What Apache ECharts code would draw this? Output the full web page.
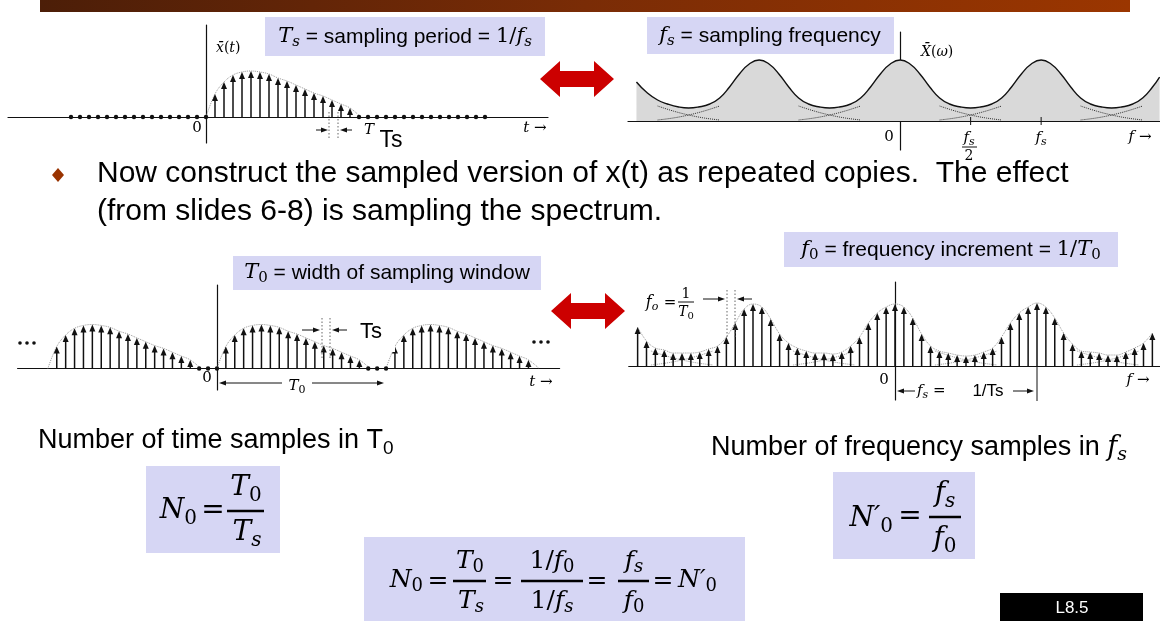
<!DOCTYPE html>
<html>
<head>
<meta charset="utf-8">
<script src="https://cdn.jsdelivr.net/npm/echarts@6/dist/echarts.min.js"></script>
<style>
  html, body { margin: 0; padding: 0; background: #fff; }
  #main { width: 1160px; height: 621px; }
</style>
</head>
<body>
<div id="main"></div>
<script>
// ---- data ----
// one pulse of x(t): sample index n = 1..16 (spacing Ts), amplitude
var pulseN = [1, 2, 3, 4, 5, 6, 7, 8, 9, 10, 11, 12, 13, 14, 15, 16];
var pulseAmp = [23, 35, 42, 45, 46, 45, 43, 39, 36, 32, 28, 24, 21, 17, 13, 9];
var pulseEdges = [0, 17.2];            // where the dotted envelope meets the axis
var zeroSamplesTop = [-15, -14, -13, -12, -11, -10, -9, -8, -7, -6, -5, -4, -3, -2, -1, 0,
                      17, 18, 19, 20, 21, 22, 23, 24, 25, 26, 27, 28, 29, 30, 31];

// periodic version: copies every N0 = 19 samples
var copyOffsets = [-19, 0, 19];
var zeroSamplesBottom = [-2, -1, 0, 17, 18, 19];

// continuous spectrum (f in units of fs), magnitude
var specF = [-1.87, -1.80, -1.72, -1.65, -1.57, -1.50, -1.43, -1.35, -1.28, -1.21, -1.14, -1.07,
             -1.00, -0.93, -0.86, -0.79, -0.72, -0.65, -0.57, -0.50, -0.43, -0.35, -0.28, -0.21,
             -0.14, -0.07, 0, 0.07, 0.14, 0.21, 0.28, 0.35, 0.43, 0.50, 0.57, 0.65, 0.72, 0.79,
             0.86, 0.93, 1.00, 1.07, 1.14, 1.21, 1.28, 1.35, 1.43, 1.50, 1.57, 1.65, 1.72, 1.79, 1.84];
var specMag = [39, 29, 21, 17, 14, 13, 14, 17, 23, 34, 47, 57,
               61, 57, 47, 34, 23, 17, 14, 13, 14, 17, 23, 34,
               47, 57, 61, 57, 47, 34, 23, 17, 14, 13, 14, 17, 23, 34,
               47, 57, 61, 57, 47, 34, 23, 17, 14, 13, 14, 17, 23, 34, 44];
var specTicks = [0.5, 1];
// overlapping tails (dotted) around each trough
var troughCenters = [-1.5, -0.5, 0.5, 1.5];
var tailOffsets = [-0.22, -0.11, 0, 0.11, 0.22];
var tailMag = [15, 10, 6, 3, 1];

// sampled spectrum: k = -29..29 (spacing f0), magnitude
var dftK0 = -29;
var dftMag = [39, 25, 18, 16, 13, 13, 13, 14, 17, 20, 29, 43, 57, 62,
              59, 47, 32, 23, 18, 15, 13, 13, 12, 14, 20, 29, 43, 53, 59,
              62,
              59, 48, 32, 20, 15, 13, 11, 10, 11, 14, 18, 29, 43, 53, 59, 63,
              59, 48, 33, 22, 15, 14, 13, 11, 11, 14, 18, 23, 33];
var dftTroughs = [-24, -8, 8, 24];
var dftTailOffsets = [-3.5, -1.75, 0, 1.75, 3.5];

// ---- helpers ----
var SERIF = '"DejaVu Serif","Liberation Serif",serif';
var SANS = '"Liberation Sans",Arial,sans-serif';
var INK = '#111';

function rich(size) {
  var sub = Math.round(size * 0.7);
  var lh = Math.round(size * 1.25);
  return {
    i: { fontFamily: SERIF, fontStyle: 'italic', fontSize: size, lineHeight: lh },
    r: { fontFamily: SERIF, fontSize: size, lineHeight: lh },
    t: { fontFamily: SANS, fontSize: size, lineHeight: lh },
    s: { fontFamily: SERIF, fontStyle: 'italic', fontSize: sub, lineHeight: sub, verticalAlign: 'bottom' },
    d: { fontFamily: SERIF, fontSize: sub, lineHeight: sub, verticalAlign: 'bottom' },
    ds: { fontFamily: SANS, fontSize: sub, lineHeight: sub, verticalAlign: 'bottom' }
  };
}
function txt(x, y, s, size, align, color) {
  return {
    type: 'text', x: x, y: y, z: 60,
    style: { text: s, rich: rich(size), align: align || 'center', verticalAlign: 'middle',
             fill: color || '#000', fontSize: size, fontFamily: SANS }
  };
}
function box(x, y, w, h, color, z) {
  return { type: 'rect', z: z || 40, shape: { x: x, y: y, width: w, height: h }, style: { fill: color } };
}
function bar(x1, x2, y, w) {
  return { type: 'rect', z: 60, shape: { x: x1, y: y - w / 2, width: x2 - x1, height: w }, style: { fill: '#000' } };
}
function seg(x1, y1, x2, y2, dotted, z) {
  return { type: 'line', z: z || 55, shape: { x1: x1, y1: y1, x2: x2, y2: y2 },
           style: { stroke: dotted ? '#666' : INK, lineWidth: 1, lineDash: dotted ? [1.5, 2] : null } };
}
function arrow(x1, y1, x2, y2) {
  var dir = x2 > x1 ? 1 : -1;
  return { type: 'group', z: 55, children: [
    { type: 'line', shape: { x1: x1, y1: y1, x2: x2 - dir * 5, y2: y2 }, style: { stroke: INK, lineWidth: 1 } },
    { type: 'polygon', shape: { points: [[x2, y2], [x2 - dir * 7, y2 - 2.5], [x2 - dir * 7, y2 + 2.5]] }, style: { fill: INK } }
  ] };
}
function redArrow(cx, cy) {
  var L = 37, H = 18, S = 8, hl = 20;
  return { type: 'polygon', z: 50, style: { fill: '#cc0000' }, shape: { points: [
    [cx - L, cy], [cx - L + hl, cy - H], [cx - L + hl, cy - S], [cx + L - hl, cy - S], [cx + L - hl, cy - H],
    [cx + L, cy], [cx + L - hl, cy + H], [cx + L - hl, cy + S], [cx - L + hl, cy + S], [cx - L + hl, cy + H]
  ] } };
}

function stemRender(params, api) {
  var x = api.value(0), v = api.value(1);
  var p0 = api.coord([x, 0]);
  if (!v) {
    return { type: 'circle', shape: { cx: p0[0], cy: p0[1], r: 2.2 }, style: { fill: INK } };
  }
  var p1 = api.coord([x, v]);
  var head = Math.min(7, p0[1] - p1[1]);
  return { type: 'group', children: [
    { type: 'line', shape: { x1: p0[0], y1: p0[1], x2: p1[0], y2: p1[1] + head - 1 }, style: { stroke: INK, lineWidth: 1.5 } },
    { type: 'polygon', shape: { points: [[p1[0], p1[1]], [p1[0] - 3, p1[1] + head], [p1[0] + 3, p1[1] + head]] }, style: { fill: INK } }
  ] };
}
function tickRender(params, api) {
  var p = api.coord([api.value(0), 0]);
  return { type: 'line', shape: { x1: p[0], y1: p[1] - 4, x2: p[0], y2: p[1] + 4 }, style: { stroke: INK, lineWidth: 1 } };
}

function axisX(grid, min, max) {
  return { gridIndex: grid, type: 'value', min: min, max: max,
    axisLine: { show: true, onZero: true, lineStyle: { color: INK, width: 1.2 } },
    axisTick: { show: false }, axisLabel: { show: false }, splitLine: { show: false } };
}
function axisY(grid, min, max) {
  return { gridIndex: grid, type: 'value', min: min, max: max,
    axisLine: { show: true, onZero: true, lineStyle: { color: INK, width: 1.2 } },
    axisTick: { show: false }, axisLabel: { show: false }, splitLine: { show: false } };
}
function dottedLine(idx, pts, color, z) {
  return { type: 'line', xAxisIndex: idx, yAxisIndex: idx, data: pts, smooth: 0.4, symbol: 'none',
           silent: true, z: z || 1, lineStyle: { type: 'dotted', color: color || '#999', width: 1 } };
}

// ---- build series data ----
var topStems = pulseN.map(function (n, i) { return [n, pulseAmp[i]]; })
  .concat(zeroSamplesTop.map(function (n) { return [n, 0]; }));
var topEnv = [[pulseEdges[0], 0]].concat(pulseN.map(function (n, i) { return [n, pulseAmp[i]]; }), [[pulseEdges[1], 0]]);

var botStems = zeroSamplesBottom.map(function (n) { return [n, 0]; });
var botEnvs = [];
copyOffsets.forEach(function (o) {
  pulseN.forEach(function (n, i) { botStems.push([o + n, pulseAmp[i]]); });
  botEnvs.push([[o + pulseEdges[0], 0]].concat(pulseN.map(function (n, i) { return [o + n, pulseAmp[i]]; }), [[o + pulseEdges[1], 0]]));
});

var specData = specF.map(function (f, i) { return [f, specMag[i]]; });
var dftData = dftMag.map(function (m, i) { return [dftK0 + i, m]; });

var series = [];
// top-left
series.push(dottedLine(0, topEnv));
series.push({ type: 'custom', xAxisIndex: 0, yAxisIndex: 0, renderItem: stemRender, data: topStems, encode: { x: 0, y: 1 }, z: 3, clip: false });
// top-right
series.push({ type: 'line', xAxisIndex: 1, yAxisIndex: 1, data: specData, smooth: 0.5, symbol: 'none', z: 2,
  lineStyle: { color: INK, width: 1.4 }, areaStyle: { color: '#d9d9d9', opacity: 1, origin: 0 } });
troughCenters.forEach(function (c) {
  series.push(dottedLine(1, tailOffsets.map(function (d, i) { return [c + d, tailMag[i]]; }), '#333', 3));
  series.push(dottedLine(1, tailOffsets.map(function (d, i) { return [c + d, tailMag[tailMag.length - 1 - i]]; }), '#333', 3));
});
series.push({ type: 'custom', xAxisIndex: 1, yAxisIndex: 1, renderItem: tickRender, data: specTicks.map(function (f) { return [f, 0]; }), encode: { x: 0, y: 1 }, z: 4 });
// bottom-left
botEnvs.forEach(function (pts) { series.push(dottedLine(2, pts)); });
series.push({ type: 'custom', xAxisIndex: 2, yAxisIndex: 2, renderItem: stemRender, data: botStems, encode: { x: 0, y: 1 }, z: 3, clip: false });
// bottom-right
series.push(dottedLine(3, dftData));
dftTroughs.forEach(function (c) {
  series.push(dottedLine(3, dftTailOffsets.map(function (d, i) { return [c + d, tailMag[i]]; })));
  series.push(dottedLine(3, dftTailOffsets.map(function (d, i) { return [c + d, tailMag[tailMag.length - 1 - i]]; })));
});
series.push({ type: 'custom', xAxisIndex: 3, yAxisIndex: 3, renderItem: stemRender, data: dftData, encode: { x: 0, y: 1 }, z: 3, clip: false });

// ---- slide decorations and text ----
var g = [];
g.push({ type: 'rect', z: 40, shape: { x: 40, y: 0, width: 1090, height: 12 },
  style: { fill: { type: 'linear', x: 0, y: 0, x2: 1, y2: 0, colorStops: [
    { offset: 0, color: '#4c1e08' }, { offset: 0.5, color: '#7a2c06' }, { offset: 1, color: '#9b3600' }] } } });

// top-left annotations
g.push(txt(216, 48, '{i|x\u0304}{r|(}{i|t}{r|)}', 14, 'left'));
g.push(txt(197, 128, '{r|0}', 15));
g.push(txt(535, 128, '{i|t}{r| \u2192}', 15));
g.push(seg(329, 112, 329, 138, true));
g.push(seg(338, 112, 338, 138, true));
g.push(arrow(316, 130, 328, 130));
g.push(arrow(352, 130, 340, 130));
g.push(txt(364, 130, '{i|T}', 15, 'left'));
g.push(box(369, 121, 38, 32, '#fff', 58));
g.push(txt(391, 141, '{t|Ts}', 23));
g.push(box(265, 17, 280, 39, '#d6d6f4'));
g.push(txt(405, 37, '{i|T}{s|s}{t| = sampling period = }{r|1/}{i|f}{s|s}', 21));

// top-right annotations
g.push(box(647, 17, 247, 37, '#d6d6f4'));
g.push(txt(770, 36, '{i|f}{s|s}{t| = sampling frequency}', 21));
g.push(txt(921, 52, '{i|X\u0304}{r|(}{i|\u03c9}{r|)}', 14, 'left'));
g.push(txt(889, 137, '{r|0}', 15));
g.push(txt(969, 138, '{i|f}{s|s}', 15));
g.push(seg(962, 147, 977, 147));
g.push(txt(969, 156, '{r|2}', 14));
g.push(txt(1041, 138, '{i|f}{s|s}', 15));
g.push(txt(1140, 137, '{i|f}{r| \u2192}', 15));

g.push(redArrow(577, 79));
g.push(redArrow(588, 311));

// bullet
g.push({ type: 'polygon', z: 60, shape: { points: [[58, 168], [64, 175], [58, 182], [52, 175]] }, style: { fill: '#993300' } });
g.push(txt(97, 174, '{t|Now construct the sampled version of x(t) as repeated copies.  The effect}', 30, 'left'));
g.push(txt(97, 212, '{t|(from slides 6-8) is sampling the spectrum.}', 30, 'left'));

// bottom-left annotations
g.push(box(233, 256, 308, 34, '#d6d6f4'));
g.push(txt(387, 273, '{i|T}{d|0}{t| = width of sampling window}', 21));
[20, 27, 34].forEach(function (x) { g.push({ type: 'circle', z: 55, shape: { cx: x, cy: 343, r: 1.8 }, style: { fill: INK } }); });
[534, 541, 548].forEach(function (x) { g.push({ type: 'circle', z: 55, shape: { cx: x, cy: 342, r: 1.8 }, style: { fill: INK } }); });
g.push(txt(207, 378, '{r|0}', 15));
g.push(arrow(282, 383, 219, 383));
g.push(arrow(312, 383, 384, 383));
g.push(txt(297, 386, '{i|T}{d|0}', 15));
g.push(txt(541, 382, '{i|t}{r| \u2192}', 15));
g.push(seg(322, 318, 322, 360, true));
g.push(seg(330, 318, 330, 360, true));
g.push(arrow(302, 330, 320, 330));
g.push(arrow(348, 330, 332, 330));
g.push(box(347, 310, 48, 42, '#fff', 58));
g.push(txt(371, 332, '{t|Ts}', 22));

// bottom-right annotations
g.push(box(784, 232, 334, 35, '#d6d6f4'));
g.push(txt(951, 250, '{i|f}{d|0}{t| = frequency increment = }{r|1/}{i|T}{d|0}', 21));
g.push(txt(652, 303, '{i|f}{s|o}', 16));
g.push(txt(670, 303, '{r|=}', 15));
g.push(txt(686, 294, '{r|1}', 14));
g.push(seg(678, 302, 694, 302));
g.push(txt(686, 312, '{i|T}{d|0}', 14));
g.push(arrow(703, 299, 725, 299));
g.push(seg(727, 290, 727, 337, true));
g.push(seg(735, 290, 735, 337, true));
g.push(arrow(752, 299, 737, 299));
g.push(txt(884, 380, '{r|0}', 15));
g.push(seg(1037, 366, 1037, 401));
g.push(arrow(915, 391, 897, 391));
g.push(txt(917, 391, '{i|f}{s|s}{r| =}', 15, 'left'));
g.push(box(966, 380, 44, 22, '#fff', 58));
g.push(txt(988, 391, '{t|1/Ts}', 17));
g.push(arrow(1013, 391, 1034, 391));
g.push(txt(1138, 380, '{i|f}{r| \u2192}', 15));

// sample counts
g.push(txt(38, 441, '{t|Number of time samples in T}{ds|0}', 27, 'left'));
g.push(txt(711, 448, '{t|Number of frequency samples in }{i|f}{s|s}', 27, 'left'));

// N0 = T0/Ts
g.push(box(146, 466, 134, 87, '#d6d6f4'));
g.push(txt(197, 511, '{i|N}{d|0}', 28, 'right'));
g.push(txt(213, 511, '{r|=}', 28));
g.push(bar(227, 264, 511, 2.5));
g.push(txt(246, 488, '{i|T}{d|0}', 28));
g.push(txt(247, 533, '{i|T}{s|s}', 28));

// N0 = T0/Ts = (1/f0)/(1/fs) = fs/f0 = N0'
g.push(box(364, 537, 381, 84, '#d6d6f4'));
g.push(txt(423, 580, '{i|N}{d|0}', 25, 'right'));
g.push(txt(438, 581, '{r|=}', 25));
g.push(bar(453, 486, 581, 2.5));
g.push(txt(470, 561, '{i|T}{d|0}', 25));
g.push(txt(471, 601, '{i|T}{s|s}', 25));
g.push(txt(503, 581, '{r|=}', 25));
g.push(bar(521, 583, 581, 2.5));
g.push(txt(552, 561, '{r|1/}{i|f}{d|0}', 25));
g.push(txt(552, 601, '{r|1/}{i|f}{s|s}', 25));
g.push(txt(597, 581, '{r|=}', 25));
g.push(bar(618, 649, 581, 2.5));
g.push(txt(634, 561, '{i|f}{s|s}', 25));
g.push(txt(634, 601, '{i|f}{d|0}', 25));
g.push(txt(663, 581, '{r|=}', 25));
g.push(txt(678, 580, '{i|N\u2032}{d|0}', 25, 'left'));

// N'0 = fs/f0
g.push(box(833, 472, 142, 87, '#d6d6f4'));
g.push(txt(893, 519, '{i|N\u2032}{d|0}', 28, 'right'));
g.push(txt(910, 517, '{r|=}', 28));
g.push(bar(929, 961, 517, 2.5));
g.push(txt(945, 494, '{i|f}{s|s}', 28));
g.push(txt(945, 539, '{i|f}{d|0}', 28));

// page tag
g.push(box(1000, 593, 143, 28, '#000'));
g.push(txt(1072, 608, '{t|L8.5}', 17, 'center', '#fff'));

var option = {
  animation: false,
  backgroundColor: '#fff',
  grid: [
    { left: 8, top: 25, width: 540, height: 118, containLabel: false, outerBoundsMode: 'none' },
    { left: 628, top: 32, width: 532, height: 118, containLabel: false, outerBoundsMode: 'none' },
    { left: 17.6, top: 285, width: 542, height: 105, containLabel: false, outerBoundsMode: 'none' },
    { left: 628.75, top: 282, width: 532.5, height: 118, containLabel: false, outerBoundsMode: 'none' }
  ],
  xAxis: [axisX(0, -22, 38), axisX(1, -1.93, 1.843), axisX(2, -22.4, 38.5), axisX(3, -30, 30)],
  yAxis: [axisY(0, -26, 92), axisY(1, -29, 89), axisY(2, -22.5, 87.3), axisY(3, -34, 84)],
  series: series,
  graphic: { elements: g }
};

var chart = echarts.init(document.getElementById('main'));
chart.setOption(option);
</script>
</body>
</html>
